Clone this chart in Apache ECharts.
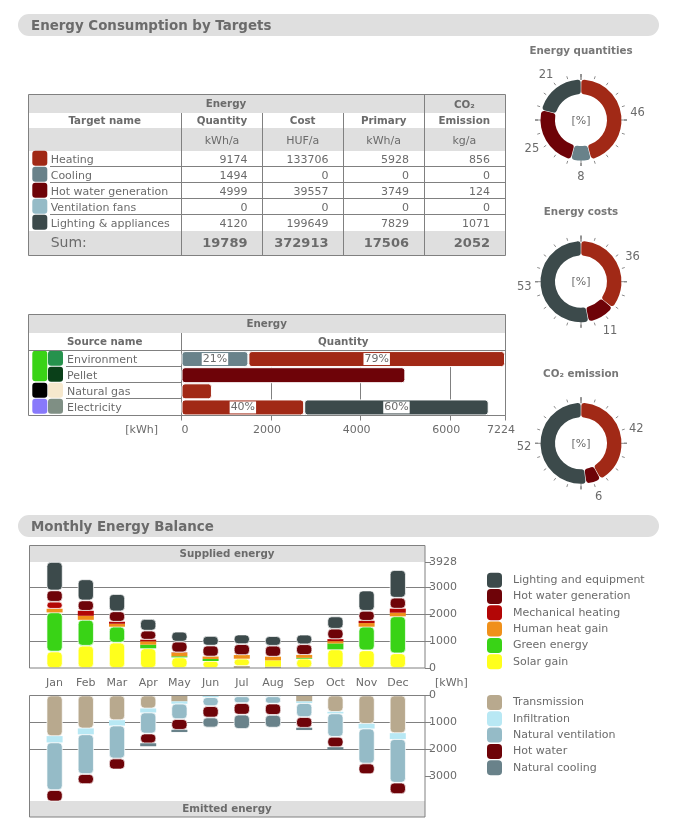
<!DOCTYPE html>
<html>
<head>
<meta charset="utf-8">
<title>Energy balance</title>
<style>
html,body{margin:0;padding:0;background:#fff;}
#main{width:674px;height:824px;}
</style>
<script src="https://cdn.jsdelivr.net/npm/echarts@6/dist/echarts.min.js"></script>
</head>
<body>
<div id="main"></div>
<script>
var FONT = '"DejaVu Sans"';
var TXT = '#6b6b6b', LINE = '#808080', HEAD = '#dfdfdf';
var BOLD = 'bold 10.3px';

var colors = {
    heating: '#a12916', cooling: '#69828a', hotwater: '#6e0308', vent: '#95bbc7', lighting: '#3c4a4b',
    mech: '#b30606', human: '#f0901a', green: '#39d316', solar: '#ffff1c',
    trans: '#b8a98e', infil: '#b8e8f4'
};

// 目标能耗表
var targets = [
    {name: 'Heating', color: colors.heating, v: [9174, 133706, 5928, 856]},
    {name: 'Cooling', color: colors.cooling, v: [1494, 0, 0, 0]},
    {name: 'Hot water generation', color: colors.hotwater, v: [4999, 39557, 3749, 124]},
    {name: 'Ventilation fans', color: colors.vent, v: [0, 0, 0, 0]},
    {name: 'Lighting & appliances', color: colors.lighting, v: [4120, 199649, 7829, 1071]}
];
var sums = [19789, 372913, 17506, 2052];

var months = ['Jan', 'Feb', 'Mar', 'Apr', 'May', 'Jun', 'Jul', 'Aug', 'Sep', 'Oct', 'Nov', 'Dec'];

// 月度数据，单位 kWh
var supplied = [
    {name: 'Transmission', color: colors.trans, data: [0, 0, 0, 0, 0, 0, 75, 50, 0, 0, 0, 0]},
    {name: 'Solar gain', color: colors.solar, data: [610, 825, 940, 730, 395, 260, 270, 235, 345, 690, 655, 545]},
    {name: 'Green energy', color: colors.green, data: [1450, 960, 590, 135, 40, 75, 0, 0, 30, 220, 875, 1370]},
    {name: 'Human heat gain', color: colors.human, data: [135, 150, 110, 125, 135, 90, 135, 135, 110, 85, 135, 135]},
    {name: 'Mechanical heating', color: colors.mech, data: [260, 185, 75, 60, 10, 0, 0, 0, 0, 75, 85, 150]},
    {name: 'Hot water generation', color: colors.hotwater, data: [420, 385, 385, 335, 395, 405, 405, 405, 395, 385, 370, 405]},
    {name: 'Lighting and equipment', color: colors.lighting, data: [1053, 780, 640, 430, 370, 355, 355, 355, 355, 455, 750, 1025]}
];
var emitted = [
    {name: 'Transmission', color: colors.trans, data: [1505, 1220, 915, 480, 220, 0, 0, 0, 220, 605, 1050, 1395]},
    {name: 'Infiltration', color: colors.infil, data: [235, 220, 200, 150, 85, 60, 30, 30, 60, 60, 175, 220]},
    {name: 'Natural ventilation', color: colors.vent, data: [1765, 1470, 1220, 780, 570, 335, 250, 270, 520, 865, 1295, 1615]},
    {name: 'Hot water', color: colors.hotwater, data: [420, 370, 405, 360, 395, 420, 430, 420, 395, 385, 395, 420]},
    {name: 'Natural cooling', color: colors.cooling, data: [0, 0, 0, 110, 85, 370, 530, 470, 85, 100, 0, 0]}
];

// 能源来源：环境 / 颗粒 / 天然气 / 电
var sources = ['Environment', 'Pellet', 'Natural gas', 'Electricity'];
var sourceSeries = [
    {name: 'Cooling', color: colors.cooling, data: [[1494, '21%'], null, null, null]},
    {name: 'Heating', color: colors.heating, data: [[5730, '79%'], null, [680], [2740, '40%']]},
    {name: 'Hot water generation', color: colors.hotwater, data: [null, [4999], null, null]},
    {name: 'Lighting & appliances', color: colors.lighting, data: [null, null, null, [4120, '60%']]}
];

// 百分比，顺时针从顶部开始
var donuts = [
    {title: 'Energy quantities', cy: 120, tx: 51, values: [46, 8, 25, 21], cols: [colors.heating, colors.cooling, colors.hotwater, colors.lighting]},
    {title: 'Energy costs', cy: 281.7, tx: 212, values: [36, 11, 53], cols: [colors.heating, colors.hotwater, colors.lighting]},
    {title: 'CO\u2082 emission', cy: 443.3, tx: 374, values: [42, 6, 52], cols: [colors.heating, colors.hotwater, colors.lighting]}
];

var g = [];
function rect(x, y, w, h, fill, r) {
    g.push({type: 'rect', silent: true, shape: {x: x, y: y, width: w, height: h, r: r || 0}, style: {fill: fill}});
}
function box(x, y, w, h) {
    g.push({type: 'rect', silent: true, z: 5, shape: {x: x, y: y, width: w, height: h}, style: {fill: 'none', stroke: LINE, lineWidth: 1}});
}
function line(x1, y1, x2, y2) {
    g.push({type: 'line', silent: true, z: 1, shape: {x1: x1, y1: y1, x2: x2, y2: y2}, style: {stroke: LINE, lineWidth: 1}});
}
function text(x, y, s, align, font, fill) {
    // canvas 的 middle 偏高一点，所以 +0.8
    g.push({type: 'text', silent: true, z: 6, style: {x: x, y: y + 0.8, text: s, textAlign: align || 'left', textVerticalAlign: 'middle',
        font: (font || '11px') + ' ' + FONT, fill: fill || TXT}});
}

// 标题条
rect(18, 14, 641, 22, HEAD, 11);
text(31, 25.5, 'Energy Consumption by Targets', 'left', 'bold 13.4px');
rect(18, 515, 641, 22, HEAD, 11);
text(31, 526.5, 'Monthly Energy Balance', 'left', 'bold 13.4px');

// 第一张表
var colX = [181.5, 262.5, 343.5, 424.5];
var colC = [222, 302.7, 383.7, 464.3];
var colR = [247.5, 328.5, 409, 490];
rect(28.5, 95, 477, 18, HEAD);
rect(28.5, 128, 477, 23, HEAD);
rect(28.5, 231, 477, 25, HEAD);
box(28.5, 94.5, 477, 161);
line(colX[3], 95, colX[3], 255);
for (var i = 0; i < 3; i++) line(colX[i], 113, colX[i], 255);
text(226, 104, 'Energy', 'center', BOLD);
text(colC[3], 104.5, 'CO\u2082', 'center', BOLD);
text(104.7, 121, 'Target name', 'center', BOLD);
['Quantity', 'Cost', 'Primary', 'Emission'].forEach(function (s, i) {
    text(colC[i], 121, s, 'center', BOLD);
});
['kWh/a', 'HUF/a', 'kWh/a', 'kg/a'].forEach(function (s, i) {
    text(colC[i], 140, s, 'center');
});
targets.forEach(function (t, r) {
    var y = 159 + r * 16;
    rect(32.3, y - 8.3, 15, 15, t.color, 3);
    text(50.7, y, t.name);
    t.v.forEach(function (v, c) {
        text(colR[c], y, String(v), 'right');
    });
    if (r < 4) line(50, y + 7.5, 505, y + 7.5);
});
text(50.7, 243, 'Sum:', 'left', '14px');
sums.forEach(function (v, c) {
    text(colR[c], 243, String(v), 'right', 'bold 13px');
});

// 第二张表
rect(28.5, 315, 477, 18, HEAD);
box(28.5, 314.5, 477, 101);
line(181.5, 333, 181.5, 415);
line(29, 350.5, 505, 350.5);
text(266.7, 323.5, 'Energy', 'center', BOLD);
text(104.7, 342, 'Source name', 'center', BOLD);
text(343.3, 342, 'Quantity', 'center', BOLD);
var srcCols = [['#39d316', '#26924d'], [null, '#0a4019'], ['#000000', '#f6e8cd'], ['#8879fb', '#7f8f84']];
sources.forEach(function (s, r) {
    var y = 359 + r * 16;
    if (srcCols[r][0]) rect(32.3, y - 8.3, 15, r == 0 ? 30.6 : 15, srcCols[r][0], 3);
    rect(48, y - 8.3, 15, 15, srcCols[r][1], 3);
    text(67, y, s);
    if (r < 3) line(66, y + 7.5, 181, y + 7.5);
});
text(141.7, 429, '[kWh]', 'center');

// 月度图框架
rect(29, 546, 396, 16, HEAD);
box(29.5, 545.5, 395.5, 122.5);
text(227, 553.5, 'Supplied energy', 'center', BOLD);
text(435, 682, '[kWh]');
rect(29, 801, 396, 16, HEAD);
box(29.5, 695.5, 395.5, 121.5);
text(227, 808.5, 'Emitted energy', 'center', BOLD);

// 饼图标题和中心文字
donuts.forEach(function (d) {
    text(581, d.tx, d.title, 'center', BOLD, '#777');
    text(581, d.cy, '[%]', 'center', '11px');
});

// 月度柱子：小段没有圆角和白边
function stackItem(s, stack, xIdx, yIdx) {
    return {
        name: s.name, type: 'bar', stack: stack, xAxisIndex: xIdx, yAxisIndex: yIdx, barWidth: 16, z: 3,
        itemStyle: {color: s.color},
        data: s.data.map(function (v) {
            var big = v >= 240;
            return {value: v, itemStyle: {borderColor: '#fff', borderWidth: big ? 0.7 : 0, borderRadius: big ? 4 : 0}};
        })
    };
}

var series = [];
supplied.forEach(function (s) { series.push(stackItem(s, 'up', 1, 1)); });
emitted.forEach(function (s) { series.push(stackItem(s, 'down', 3, 3)); });

sourceSeries.forEach(function (s) {
    series.push({
        name: 'src ' + s.name, type: 'bar', stack: 'src', xAxisIndex: 4, yAxisIndex: 4, barWidth: 16,
        itemStyle: {color: s.color, borderColor: '#fff', borderWidth: 1, borderRadius: 3},
        data: s.data.map(function (d) {
            if (!d) return null;
            var item = {value: d[0]};
            if (d[1]) item.label = {show: true, position: 'inside', formatter: d[1], color: TXT, fontFamily: FONT, fontSize: 11,
                backgroundColor: '#fff', padding: [1, 1, 0, 1]};
            return item;
        })
    });
});

donuts.forEach(function (d) {
    // 外圈刻度
    series.push({
        type: 'gauge', center: [581, d.cy], radius: 46, startAngle: 90, endAngle: -270, min: 0, max: 100, splitNumber: 4,
        silent: true, z: 1,
        axisLine: {show: false, lineStyle: {width: 0}},
        splitLine: {length: 6, distance: 0, lineStyle: {color: '#8c8c8c', width: 1}},
        axisTick: {splitNumber: 5, length: 3, distance: 0, lineStyle: {color: '#8c8c8c', width: 1}},
        axisLabel: {show: false}, pointer: {show: false}, title: {show: false}, detail: {show: false},
        data: [{value: 0}]
    });
    series.push({
        type: 'pie', center: [581, d.cy], radius: [26, 40.5], startAngle: 90, silent: true, z: 3,
        padAngle: 1, label: {show: false}, labelLine: {show: false},
        itemStyle: {borderRadius: 3},
        data: d.values.map(function (v, i) {
            return {value: v, name: d.title + i, itemStyle: {color: d.cols[i]}};
        })
    });
    // 透明外环，只用来放数字
    series.push({
        type: 'pie', center: [581, d.cy], radius: [49, 59], startAngle: 90, silent: true, z: 4,
        itemStyle: {color: 'rgba(0,0,0,0)'}, labelLine: {show: false},
        label: {show: true, position: 'inside', color: TXT, fontFamily: FONT, fontSize: 11.5,
            formatter: function (p) { return p.value; }},
        data: d.values.map(function (v, i) {
            return {value: v, name: d.title + ' pct' + i};
        })
    });
});

function plain(v) { return String(v); }

var legendText = {color: TXT, fontFamily: FONT, fontSize: 11, padding: [2, 0, 0, 6]};

var option = {
    animation: false,
    graphic: g,
    legend: [
        {
            left: 487, top: 572.7, padding: 0, orient: 'vertical', itemWidth: 15, itemHeight: 15, itemGap: 1.3, icon: 'roundRect', selectedMode: false,
            textStyle: legendText,
            data: ['Lighting and equipment', 'Hot water generation', 'Mechanical heating', 'Human heat gain', 'Green energy', 'Solar gain']
        },
        {
            left: 487, top: 695, padding: 0, orient: 'vertical', itemWidth: 15, itemHeight: 15, itemGap: 1.3, icon: 'roundRect', selectedMode: false,
            textStyle: legendText,
            data: ['Transmission', 'Infiltration', 'Natural ventilation', 'Hot water', 'Natural cooling']
        }
    ],
    grid: [
        {left: 29.5, top: 562, width: 395.5, height: 106},   // 上图框（刻度和网格线）
        {left: 39, top: 562, width: 374.4, height: 106},     // 上图柱子
        {left: 29.5, top: 695.5, width: 395.5, height: 106}, // 下图框
        {left: 39, top: 695.5, width: 374.4, height: 106},   // 下图柱子
        {left: 181.5, top: 351, width: 323.5, height: 64.5}  // 能源来源
    ],
    xAxis: [
        {gridIndex: 0, type: 'category', show: false, data: months},
        {gridIndex: 1, type: 'category', data: months, axisLine: {show: false}, axisTick: {show: false},
            axisLabel: {color: TXT, fontFamily: FONT, fontSize: 11, margin: 9.5}},
        {gridIndex: 2, type: 'category', show: false, data: months},
        {gridIndex: 3, type: 'category', show: false, data: months},
        {gridIndex: 4, type: 'value', min: 0, max: 7224, interval: 2000, position: 'bottom',
            axisLine: {show: false},
            axisTick: {show: true, length: 5, lineStyle: {color: LINE}},
            splitLine: {show: true, lineStyle: {color: LINE, width: 1}},
            axisLabel: {color: TXT, fontFamily: FONT, fontSize: 11, margin: 9, padding: [0, 8, 0, 0], alignMinLabel: 'left', formatter: plain}}
    ],
    yAxis: [
        {gridIndex: 0, type: 'value', position: 'right', min: 0, max: 3928, interval: 1000,
            axisLine: {show: false}, axisTick: {show: true, length: 6, lineStyle: {color: LINE}},
            splitLine: {show: true, showMinLine: false, showMaxLine: false, lineStyle: {color: LINE, width: 1}},
            axisLabel: {color: TXT, fontFamily: FONT, fontSize: 11, margin: 4, formatter: plain}},
        {gridIndex: 1, type: 'value', show: false, min: 0, max: 3928, splitLine: {show: false}},
        {gridIndex: 2, type: 'value', position: 'right', inverse: true, min: 0, max: 3928, interval: 1000,
            axisLine: {show: false},
            axisTick: {show: true, length: 6, lineStyle: {color: LINE}, customValues: [0, 1000, 2000, 3000]},
            splitLine: {show: true, showMinLine: false, showMaxLine: false, lineStyle: {color: LINE, width: 1}},
            axisLabel: {color: TXT, fontFamily: FONT, fontSize: 11, margin: 4, customValues: [0, 1000, 2000, 3000], formatter: plain}},
        {gridIndex: 3, type: 'value', show: false, inverse: true, min: 0, max: 3928, splitLine: {show: false}},
        {gridIndex: 4, type: 'category', inverse: true, show: false, data: sources}
    ],
    series: series
};

var chart = echarts.init(document.getElementById('main'));
chart.setOption(option);
</script>
</body>
</html>
